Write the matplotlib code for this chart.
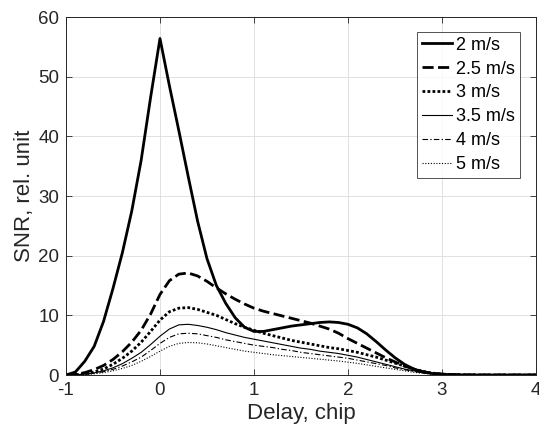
import numpy as np
import matplotlib
matplotlib.use("Agg")
import matplotlib.pyplot as plt

plt.rcParams['font.family'] = ['Liberation Sans', 'DejaVu Sans']
plt.rcParams['axes.unicode_minus'] = False

# Delay axis, chip
delay = [-1.0, -0.9, -0.8, -0.7, -0.6, -0.5, -0.4, -0.3, -0.2, -0.1,
         0.0, 0.1, 0.2, 0.3, 0.4, 0.5, 0.6, 0.7, 0.8, 0.9,
         1.0, 1.1, 1.2, 1.3, 1.4, 1.5, 1.6, 1.7, 1.8, 1.9,
         2.0, 2.1, 2.2, 2.3, 2.4, 2.5, 2.6, 2.7, 2.8, 2.9,
         3.0, 3.1, 3.2, 3.3, 3.4, 3.5, 3.6, 3.7, 3.8, 3.9, 4.0]

snr_2_0 = [0.0, 0.5, 2.3, 4.8, 9.0, 14.5, 20.5, 27.5, 36.0, 46.5,
           56.4, 48.5, 41.0, 33.3, 25.8, 19.5, 15.0, 12.0, 9.6, 8.0,
           7.3, 7.3, 7.6, 7.9, 8.2, 8.4, 8.6, 8.8, 8.9, 8.8,
           8.5, 7.9, 6.9, 5.6, 4.2, 2.9, 1.8, 1.0, 0.5, 0.25,
           0.12, 0.06, 0.03, 0.01, 0.0, 0.0, 0.0, 0.0, 0.0, 0.0, 0.0]

snr_2_5 = [0.0, 0.1, 0.4, 0.9, 1.6, 2.6, 3.9, 5.5, 7.5, 10.2,
           13.5, 15.8, 16.9, 17.1, 16.6, 15.7, 14.6, 13.6, 12.7, 11.9,
           11.2, 10.7, 10.3, 9.9, 9.5, 9.1, 8.7, 8.2, 7.7, 7.0,
           6.1, 5.3, 4.5, 3.7, 2.9, 2.2, 1.5, 1.0, 0.55, 0.3,
           0.15, 0.07, 0.03, 0.01, 0.0, 0.0, 0.0, 0.0, 0.0, 0.0, 0.0]

snr_3_0 = [0.0, 0.05, 0.2, 0.5, 1.0, 1.8, 2.8, 4.0, 5.5, 7.3,
           9.2, 10.6, 11.2, 11.3, 11.0, 10.5, 10.0, 9.3, 8.6, 8.0,
           7.5, 7.0, 6.6, 6.2, 5.8, 5.5, 5.2, 4.9, 4.6, 4.4,
           4.1, 3.8, 3.4, 3.0, 2.5, 2.0, 1.5, 1.0, 0.6, 0.3,
           0.15, 0.07, 0.03, 0.01, 0.0, 0.0, 0.0, 0.0, 0.0, 0.0, 0.0]

snr_3_5 = [0.0, 0.04, 0.15, 0.35, 0.7, 1.2, 1.9, 2.8, 3.8, 5.1,
           6.5, 7.7, 8.4, 8.5, 8.3, 8.0, 7.6, 7.1, 6.7, 6.3,
           6.0, 5.7, 5.4, 5.1, 4.8, 4.5, 4.3, 4.0, 3.8, 3.6,
           3.3, 3.0, 2.6, 2.2, 1.8, 1.4, 1.0, 0.7, 0.4, 0.2,
           0.1, 0.05, 0.02, 0.0, 0.0, 0.0, 0.0, 0.0, 0.0, 0.0, 0.0]

snr_4_0 = [0.0, 0.03, 0.12, 0.3, 0.55, 0.95, 1.5, 2.2, 3.0, 4.1,
           5.3, 6.3, 6.9, 7.0, 6.9, 6.6, 6.3, 5.9, 5.6, 5.3,
           5.0, 4.8, 4.6, 4.3, 4.1, 3.8, 3.6, 3.4, 3.2, 3.0,
           2.8, 2.5, 2.2, 1.9, 1.6, 1.2, 0.9, 0.6, 0.35, 0.18,
           0.09, 0.04, 0.02, 0.0, 0.0, 0.0, 0.0, 0.0, 0.0, 0.0, 0.0]

snr_5_0 = [0.0, 0.02, 0.08, 0.2, 0.4, 0.7, 1.1, 1.6, 2.3, 3.1,
           4.0, 4.8, 5.3, 5.45, 5.4, 5.2, 4.9, 4.6, 4.3, 4.0,
           3.8, 3.6, 3.4, 3.25, 3.1, 2.95, 2.8, 2.65, 2.5, 2.35,
           2.15, 1.95, 1.7, 1.45, 1.2, 0.95, 0.7, 0.45, 0.27, 0.14,
           0.07, 0.03, 0.01, 0.0, 0.0, 0.0, 0.0, 0.0, 0.0, 0.0, 0.0]

labels = ['2 m/s', '2.5 m/s', '3 m/s', '3.5 m/s', '4 m/s', '5 m/s']
xticks = [-1, 0, 1, 2, 3, 4]
yticks = [0, 10, 20, 30, 40, 50, 60]

fig = plt.figure(figsize=(5.39, 4.36), dpi=100)
ax = fig.add_axes([0.1224, 0.1399, 0.8720, 0.8211])

series = [snr_2_0, snr_2_5, snr_3_0, snr_3_5, snr_4_0, snr_5_0]
styles = [
    dict(ls='-', lw=2.0),
    dict(ls=(0, (4.0, 1.6)), lw=2.0),
    dict(ls=(0, (1.0, 0.8)), lw=2.0),
    dict(ls='-', lw=0.8),
    dict(ls=(0, (5.0, 2.0, 1.2, 2.0)), lw=0.8),
    dict(ls=(0, (1.0, 1.5)), lw=0.8),
]
for y, lab, st in zip(series, labels, styles):
    ax.plot(delay, y, color='black', label=lab, **st)

ax.set_xlim(-1, 4)
ax.set_ylim(0, 60)
ax.set_xticks(xticks)
ax.set_yticks(yticks)
ax.grid(True, color='#dcdcdc', lw=0.6)
ax.set_axisbelow(True)
for s in ax.spines.values():
    s.set_color('#262626')
    s.set_linewidth(0.7)
ax.tick_params(direction='in', length=4, width=0.6, color='#262626',
               labelsize=13.5, labelcolor='#262626', top=True, right=True, pad=5)
ax.set_xlabel('Delay, chip', fontsize=16, color='#262626', labelpad=3)
ax.set_ylabel('SNR, rel. unit', fontsize=16, color='#262626', labelpad=2)

leg = ax.legend(loc='upper right', bbox_to_anchor=(0.966, 0.958), fontsize=13,
                frameon=True, fancybox=False, edgecolor='#262626',
                handlelength=1.7, handletextpad=0.22, borderpad=0.26,
                labelspacing=0.38, borderaxespad=0)
leg.get_frame().set_linewidth(0.7)

fig.savefig('out.png', dpi=100)
